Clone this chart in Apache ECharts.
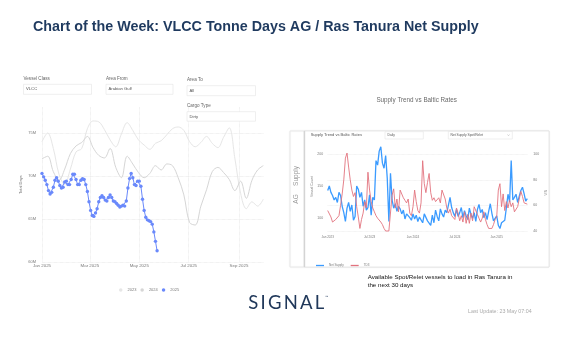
<!DOCTYPE html>
<html><head><meta charset="utf-8">
<script src="https://cdn.jsdelivr.net/npm/echarts@6/dist/echarts.min.js"></script>
<style>html,body{margin:0;padding:0;background:#fff}#c{width:581px;height:340px}</style>
</head><body><div id="c"></div>
<script>
// ---------- data ----------
const leftTickDates = ['2025-01-01','2025-03-01','2025-05-01','2025-07-01','2025-09-01'];
const leftTickLabels = ['Jan 2025','Mar 2025','May 2025','Jul 2025','Sep 2025'];
const leftLegend = ['2023','2024','2025'];
// weekly values (every 7 days from 1 Jan), millions of tonne days
const values2023 = [74.0,75.0,73.2,70.2,69.0,70.8,72.8,73.2,75.5,76.4,76.3,75.4,74.2,73.4,74.9,76.2,75.3,74.2,73.6,73.1,73.8,74.1,74.8,75.5,75.7,75.3,74.0,73.4,73.9,74.6,73.8,73.3,74.5,75.6,72.0,68.0,66.2,67.0,66.5,67.3];
const values2024 = [72.0,72.3,70.5,69.5,70.8,72.6,73.5,73.9,74.6,73.3,72.4,72.1,73.2,71.0,69.8,72.3,71.4,70.4,69.8,70.3,71.2,70.7,71.4,71.2,69.8,67.8,64.6,64.3,66.5,68.4,70.5,71.0,70.4,69.6,68.3,69.4,67.4,69.5,70.7,71.2];
// every 2 days from 1 Jan 2025
const values2025 = [70.3,69.9,69.5,69.0,68.3,67.9,68.1,68.7,69.5,69.8,69.4,68.9,68.6,68.7,69.3,69.4,69.0,69.0,69.6,70.2,70.2,69.6,69.0,69.0,69.5,69.7,69.6,69.0,68.2,67.0,66.0,65.4,65.3,65.7,66.2,67.0,67.5,67.7,67.5,67.2,67.1,67.5,67.8,67.5,67.1,67.0,66.8,66.6,66.4,66.5,66.6,66.5,67.1,68.6,69.7,70.3,69.8,69.0,68.9,69.4,69.4,68.8,67.3,66.0,65.2,64.9,64.8,64.7,64.4,63.5,62.4,61.3];

const rightTickLabels = ['Jan 2023','Jul 2023','Jan 2024','Jul 2024','Jan 2025'];
const rightLegend = ['Net Supply','TD3'];
// weekly from 1 Jan 2023
const netSupply = [143,150,140,135,128,132,124,140,135,118,108,94,115,124,110,120,96,102,150,145,132,140,118,128,112,116,136,104,132,128,190,183,205,212,186,178,198,162,94,170,128,115,122,110,118,114,106,112,98,106,109,100,96,106,98,104,94,101,98,92,106,104,95,98,88,104,92,112,102,95,114,106,101,112,108,120,132,116,108,102,113,102,108,116,100,111,103,97,115,105,99,108,94,113,121,108,113,100,108,97,110,122,107,95,92,103,88,83,92,90,96,116,137,125,190,128,132,137,124,134,143,148,138,126,130];
const td3 = [56,55,51,47,46,49,50,52,60,69,80,97,101,90,80,72,67,70,59,51,42,49,54,63,58,86,72,63,58,55,52,50,49,47,45,42,40,39,40,39,68,73,58,65,55,72,72,66,64,62,65,54,52,59,72,63,56,54,62,95,77,70,78,85,70,64,66,63,64,66,62,72,73,65,58,54,57,52,51,49,58,54,48,52,47,55,46,53,46,54,48,59,60,53,50,47,50,55,49,45,42,41,42,45,49,51,72,77,59,69,56,63,58,64,59,62,55,54,59,65,71,67,62,63,61];

// ---------- helpers ----------
const DAY = 86400000;
const mon = ['Jan','Feb','Mar','Apr','May','Jun','Jul','Aug','Sep','Oct','Nov','Dec'];
function iso(t){const d=new Date(t);return d.getUTCFullYear()+'-'+String(d.getUTCMonth()+1).padStart(2,'0')+'-'+String(d.getUTCDate()).padStart(2,'0');}
const leftDays = []; for(let d=0; d<274; d++) leftDays.push(iso(Date.UTC(2025,0,1)+d*DAY));
const weeks = []; for(let i=0;i<netSupply.length;i++) weeks.push(iso(Date.UTC(2023,0,1)+i*7*DAY));
function isRightTick(v){const p=v.split('-');const m=+p[1],d=+p[2];return (m===1||m===7)&&d<=7;}
function rightFmt(v){const p=v.split('-');return mon[+p[1]-1]+' '+p[0];}
const isLeftTick = (i,v)=>leftTickDates.indexOf(v)>=0;

const FF = 'Liberation Sans, Arial, sans-serif';
const gray = '#7a7a7a';

// ---------- graphics ----------
function txt(text,x,y,size,fill,opt){return Object.assign({type:'text',x:x,y:y,z:20,style:{text:text,fill:fill,fontSize:size,fontFamily:FF,align:'left',verticalAlign:'middle',textAlign:'left',textVerticalAlign:'middle'}},opt||{});}
function ctxt(text,x,y,size,fill,rot){return {type:'text',x:x,y:y,z:20,rotation:rot||0,style:{text:text,fill:fill,fontSize:size,fontFamily:FF,align:'center',verticalAlign:'middle',textAlign:'center',textVerticalAlign:'middle'}};}
function box(x,y,w,h){return {type:'rect',z:1,shape:{x:x,y:y,width:w,height:h},style:{fill:'#fff',stroke:'#e4e4e4',lineWidth:0.6}};}
const g = [];
const title = txt('Chart of the Week: VLCC Tonne Days AG / Ras Tanura Net Supply',33,27,14.3,'#1f3a5f');
title.style.fontWeight='bold'; g.push(title);
// left filters
g.push(txt('Vessel Class',23.5,78.5,4.6,'#666'));
g.push(box(23.5,84.3,68,10)); g.push(txt('VLCC',26,89.3,4.2,'#555'));
g.push(txt('Area From',106,78.5,4.6,'#666'));
g.push(box(106,84.3,67,10)); g.push(txt('Arabian Gulf',108.5,89.3,4.2,'#555'));
g.push(txt('Area To',187,80,4.6,'#666'));
g.push(box(187,85.7,68.5,10)); g.push(txt('All',189.5,90.7,4.2,'#555'));
g.push(txt('Cargo Type',187,106,4.6,'#666'));
g.push(box(187,111.7,68.5,9.5)); g.push(txt('Dirty',189.5,116.5,4.2,'#555'));
// right card
g.push(ctxt('Supply Trend vs Baltic Rates',416.7,100,6.3,'#6a6a6a'));
g.push({type:'rect',z:0,shape:{x:290,y:131,width:259,height:136},style:{fill:'#fff',stroke:'#e6e6e6',lineWidth:0.8,shadowBlur:2,shadowColor:'rgba(0,0,0,0.06)'}});
g.push({type:'rect',z:0,shape:{x:304,y:131,width:245,height:136},style:{fill:'#fff',stroke:'#e3e3e3',lineWidth:0.8}});
g.push({type:'line',z:0,shape:{x1:304.5,y1:131,x2:304.5,y2:267},style:{stroke:'#d4d4d4',lineWidth:1.4}});
g.push(ctxt('Supply',296.5,176,6.5,'#9a9a9a',Math.PI/2));
g.push(ctxt('AG',296.5,199,6.5,'#9a9a9a',Math.PI/2));
g.push(txt('Supply Trend vs Baltic Rates',310.7,134.5,4,'#555'));
g.push(box(385,131.7,38.3,7.3)); g.push(txt('Daily',387.5,135.4,3.3,'#555'));
g.push(box(448.3,131.5,64,7.5)); g.push(txt('Net Supply Spot/Relet',450.5,135.3,3.3,'#555'));
g.push({type:'polyline',z:21,shape:{points:[[507.5,134.5],[508.5,135.7],[509.5,134.5]]},style:{stroke:'#999',lineWidth:0.4,fill:null}});
// notes
g.push(txt('Available Spot/Relet vessels to load in Ras Tanura in',367.7,277.7,6.2,'#111'));
g.push(txt('the next 30 days',367.7,285,6.2,'#111'));
g.push(txt('Last Update: 23 May 07:04',468,311.7,5.3,'#aaaaaa'));
// logo letters
(function(){
  const letters='SIGNAL'.split('');
  const c=document.createElement('canvas').getContext('2d');
  const fs=18.5; c.font=fs+'px Lato';
  const ws=letters.map(l=>c.measureText(l).width);
  const tot=ws.reduce((a,b)=>a+b,0);
  const gap=(76-tot)/5; let x=248.3;
  letters.forEach((l,k)=>{g.push({type:'text',x:x,y:303.5,z:20,style:{text:l,fill:'#20385a',fontSize:fs,fontFamily:'Lato',align:'left',verticalAlign:'middle',textAlign:'left',textVerticalAlign:'middle'}}); x+=ws[k]+gap;});
  g.push(txt('™',325,297,3.5,'#20385a'));
})();

// ---------- chart ----------
const chart = echarts.init(document.getElementById('c'),null,{renderer:'canvas'});
const axisTxt = {color:gray,fontFamily:FF};
const option = {
  backgroundColor:'#fff',
  animation:false,
  textStyle:{fontFamily:FF},
  graphic:{elements:g},
  grid:[
    {left:42,right:317.7,top:107.2,bottom:78,outerBoundsMode:'none'},
    {left:42,right:317.7,top:133,bottom:78,outerBoundsMode:'none'},
    {left:327.7,right:53.7,top:154.3,bottom:90.6,outerBoundsMode:'none'},
    {left:327.7,right:53.7,top:154.3,bottom:109,outerBoundsMode:'none'}
  ],
  legend:[
    {data:leftLegend,left:114,top:283,icon:'circle',itemWidth:3.5,itemHeight:3.5,itemGap:4,textStyle:Object.assign({fontSize:4},axisTxt)},
    {data:rightLegend,left:311,top:259,icon:'rect',itemWidth:8,itemHeight:1.3,itemGap:7,textStyle:Object.assign({fontSize:3},axisTxt)}
  ],
  xAxis:[
    {gridIndex:0,type:'category',data:leftDays,boundaryGap:false,axisLine:{show:false},axisTick:{show:false},
     axisLabel:Object.assign({fontSize:4.4,margin:2,interval:isLeftTick,formatter:v=>leftTickLabels[leftTickDates.indexOf(v)]},axisTxt),
     splitLine:{show:true,interval:isLeftTick,lineStyle:{type:'dotted',color:'#dadada',width:0.6}}},
    {gridIndex:1,type:'category',data:leftDays,boundaryGap:false,show:false},
    {gridIndex:2,type:'category',data:weeks,boundaryGap:false,show:false},
    {gridIndex:3,type:'category',data:weeks,boundaryGap:false,axisLine:{show:false},axisTick:{show:false},
     axisLabel:Object.assign({fontSize:3,margin:5,interval:(i,v)=>isRightTick(v),formatter:rightFmt},axisTxt),splitLine:{show:false}}
  ],
  yAxis:[
    {gridIndex:0,type:'value',min:60,max:78,axisLabel:{show:false},axisLine:{show:false},axisTick:{show:false},splitLine:{show:false},
     name:'Total Days',nameLocation:'middle',nameGap:19,nameTextStyle:Object.assign({fontSize:4},axisTxt)},
    {gridIndex:1,type:'value',min:60,max:75,interval:5,axisLine:{show:false},axisTick:{show:false},
     axisLabel:Object.assign({fontSize:4,margin:6,formatter:v=>v+'M'},axisTxt),
     splitLine:{lineStyle:{type:'dotted',color:'#dadada',width:0.6}}},
    {gridIndex:2,type:'value',position:'left',min:50,max:200,interval:50,axisLine:{show:false},axisTick:{show:false},
     axisLabel:Object.assign({fontSize:3.5,margin:4.5,showMinLabel:false},axisTxt),splitLine:{show:false}},
    {gridIndex:3,type:'value',position:'right',min:40,max:100,interval:20,axisLine:{show:false},axisTick:{show:false},
     axisLabel:Object.assign({fontSize:3.5,margin:6},axisTxt),
     splitLine:{lineStyle:{type:'dotted',color:'#e0e0e0',width:0.6}},
     name:'WS',nameLocation:'middle',nameGap:16.5,nameTextStyle:Object.assign({fontSize:3.5},axisTxt)},
    {gridIndex:3,type:'value',position:'left',min:40,max:100,axisLabel:{show:false},axisLine:{show:false},axisTick:{show:false},splitLine:{show:false},
     name:'Vessel Count',nameLocation:'middle',nameGap:14,nameTextStyle:Object.assign({fontSize:3.5,padding:[0,0,0,12]},axisTxt)}
  ],
  series:[
    {name:'2023',type:'line',xAxisIndex:0,yAxisIndex:0,data:values2023.map((v,k)=>[k*7,v]),smooth:0.35,showSymbol:false,
     itemStyle:{color:'#e6e6e6'},lineStyle:{color:'#e6e6e6',width:1}},
    {name:'2024',type:'line',xAxisIndex:0,yAxisIndex:0,data:values2024.map((v,k)=>[k*7,v]),smooth:0.35,showSymbol:false,
     itemStyle:{color:'#d6d6d6'},lineStyle:{color:'#d6d6d6',width:1}},
    {name:'2025',type:'line',xAxisIndex:0,yAxisIndex:0,data:values2025.map((v,k)=>[k*2,v]),symbol:'circle',symbolSize:3.4,showAllSymbol:true,
     itemStyle:{color:'#6a89fb'},lineStyle:{color:'#6a89fb',width:1}},
    {name:'Net Supply',type:'line',xAxisIndex:2,yAxisIndex:2,data:netSupply,showSymbol:false,clip:false,
     itemStyle:{color:'#3b9bff'},lineStyle:{color:'#3b9bff',width:1.3}},
    {name:'TD3',type:'line',xAxisIndex:3,yAxisIndex:3,data:td3,showSymbol:false,clip:false,
     itemStyle:{color:'#e2737e'},lineStyle:{color:'#e2737e',width:0.9}}
  ]
};
chart.setOption(option);
</script></body></html>
